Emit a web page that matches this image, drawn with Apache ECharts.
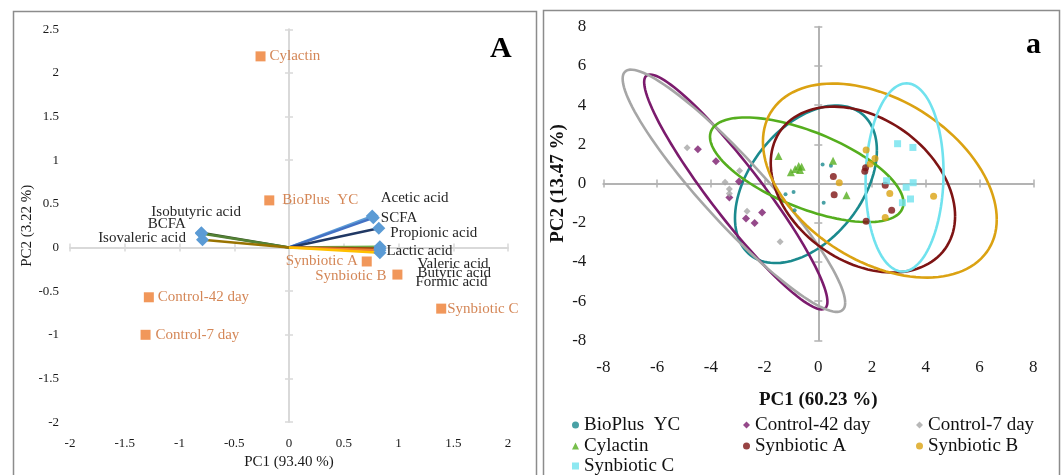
<!DOCTYPE html>
<html><head><meta charset="utf-8">
<script src="https://cdn.jsdelivr.net/npm/echarts@6/dist/echarts.min.js"></script>
<style>html,body{margin:0;padding:0;background:#fff}#c{width:1062px;height:475px}</style>
</head><body><div id="c"></div>
<script>
// ---------- Panel A data ----------
const trtNames = ['Cylactin','BioPlus  YC','Synbiotic A','Synbiotic B','Control-42 day','Control-7 day','Synbiotic C'];
const trtPC1 = [-0.26, -0.18, 0.71, 0.99, -1.28, -1.31, 1.39];
const trtPC2 = [2.19, 0.54, -0.16, -0.31, -0.57, -1.00, -0.70];

const varNames = ['Acetic acid','SCFA','Propionic acid','Lactic acid','Valeric acid','Butyric acid','Formic acid','Isobutyric acid','BCFA','Isovaleric acid'];
const varPC1 = [0.76, 0.77, 0.82, 0.83, 0.83, 0.83, 0.83, -0.80, -0.80, -0.79];
const varPC2 = [0.36, 0.34, 0.22, 0.01, -0.01, -0.03, -0.06, 0.17, 0.16, 0.09];

const axisA = {min: -2, max: 2, interval: 0.5, ymin: -2, ymax: 2.5, yinterval: 0.5};

// ---------- Panel a data ----------
const groups = ['BioPlus  YC','Control-42 day','Control-7 day','Cylactin','Synbiotic A','Synbiotic B','Synbiotic C'];
const bioX = [0.16, 0.47, 0.20, -0.92, -1.22, -0.88];
const bioY = [0.97, 0.91, -0.98, -0.43, -0.55, -1.37];
const c42X = [-4.48, -3.81, -2.95, -3.31, -2.09, -2.69, -2.37];
const c42Y = [1.75, 1.13, 0.10, -0.72, -1.48, -1.79, -2.01];
const c7X = [-4.88, -2.93, -3.47, -3.31, -3.31, -2.65, -1.42];
const c7Y = [1.82, 0.65, 0.06, -0.28, -0.51, -1.41, -2.97];
const cylX = [-1.48, -1.02, -0.86, -0.73, -0.62, -0.68, 0.55, 1.05];
const cylY = [1.40, 0.58, 0.74, 0.89, 0.86, 0.69, 1.16, -0.60];
const synAX = [0.56, 0.59, 1.73, 1.76, 2.49, 2.73, 1.78];
const synAY = [0.36, -0.57, 0.63, 0.80, -0.09, -1.36, -1.93];
const synBX = [0.78, 1.78, 2.11, 1.93, 2.66, 2.49, 4.29];
const synBY = [0.04, 1.71, 1.27, 0.99, -0.51, -1.73, -0.65];
const synCX = [2.95, 3.52, 2.54, 3.53, 3.27, 3.43, 3.13];
const synCY = [2.03, 1.84, 0.14, 0.04, -0.19, -0.79, -0.98];
// confidence ellipses: [centre PC1, centre PC2, half-width, half-height, correlation]
const ellBio = [-0.46, -0.04, 2.64, 4.02, 0.43];
const ellC42 = [-3.07, -0.43, 3.41, 5.99, -0.935];
const ellC7  = [-3.14, -0.37, 4.14, 6.18, -0.925];
const ellCyl = [-0.43, 0.70, 3.60, 2.67, -0.63];
const ellSynA = [1.66, -0.31, 3.43, 4.23, -0.32];
const ellSynB = [2.29, 0.15, 4.35, 4.95, -0.40];
const ellSynC = [3.21, 0.31, 1.45, 4.80, 0.05];

const axisB = {min: -8, max: 8, interval: 2};

// ---------- styles ----------
const FONT = '"Liberation Serif","Times New Roman",serif';
const trtLabelStyle = [
  {position:'right', distance:4, offset:[0,0]},
  {position:'right', distance:8, offset:[0,0]},
  {position:'left', distance:4, offset:[0,0]},
  {position:'left', distance:6, offset:[0,1]},
  {position:'right', distance:4, offset:[0,0]},
  {position:'right', distance:5, offset:[0,0]},
  {position:'right', distance:1, offset:[0,0]}
];
const varLabelStyle = [
  {position:'right', offset:[-3,-18]},
  {position:'right', offset:[-4,0]},
  {position:'right', offset:[0,5]},
  {position:'right', offset:[-5,4]},
  {position:'right', offset:[26,16]},
  {position:'right', offset:[26,23]},
  {position:'right', offset:[24,29]},
  {position:'left', offset:[51,-21]},
  {position:'left', offset:[-4,-9]},
  {position:'left', offset:[-5,-2]}
];
const varColors = ['#5B9BD5','#4472C4','#203864','#70AD47','#9E480E','#ED7D31','#FFC000','#375623','#548235','#997300'];
const grpColors = ['#1B8A8E','#7B1B6D','#A6A6A6','#55AE1E','#7E1414','#DBA212','#70E2EE'];
const grpSymbols = ['circle','diamond','diamond','triangle','circle','circle','rect'];
const grpSizes = [4, 8, 7, 8, 7, 7, 7];

const zip = (xs, ys) => xs.map((x, i) => [x, ys[i]]);

function axisSet(gi, mn, mx, iv, lineColor, labelSize, labelMargin, name, nameGap, nameStyle, dim) {
  const base = {gridIndex: gi, type: 'value', min: mn, max: mx, interval: iv, splitLine: {show: false}};
  const pos1 = dim === 'x' ? 'bottom' : 'left';
  const pos2 = dim === 'x' ? 'top' : 'right';
  return [
    Object.assign({}, base, {position: pos1, axisLine: {show: false, onZero: false}, axisTick: {show: false},
      axisLabel: {fontSize: labelSize, color: '#1a1a1a', fontFamily: FONT, margin: labelMargin},
      name: name, nameLocation: 'middle', nameGap: nameGap, nameRotate: dim === 'x' ? 0 : 90, nameTextStyle: nameStyle}),
    Object.assign({}, base, {position: pos1, axisLine: {show: true, onZero: true, lineStyle: {color: lineColor, width: 2}},
      axisTick: {show: true, length: 4, lineStyle: {color: lineColor, width: 1.5}}, axisLabel: {show: false}}),
    Object.assign({}, base, {position: pos2, axisLine: {show: false, onZero: true},
      axisTick: {show: true, length: 4, lineStyle: {color: lineColor, width: 1.5}}, axisLabel: {show: false}})
  ];
}

const nameStyleA = {fontSize: 15, fontFamily: FONT, color: '#1a1a1a'};
const nameStyleB = {fontSize: 19, fontFamily: FONT, color: '#111', fontWeight: 'bold'};

const xAxis = [].concat(
  axisSet(0, axisA.min, axisA.max, axisA.interval, '#d9d9d9', 13, 15, 'PC1 (93.40 %)', 31, nameStyleA, 'x'),
  axisSet(1, axisB.min, axisB.max, axisB.interval, '#b3b3b3', 17, 19, 'PC1 (60.23 %)', 50, nameStyleB, 'x')
);
const yAxis = [].concat(
  axisSet(0, axisA.ymin, axisA.ymax, axisA.yinterval, '#d9d9d9', 13, 11, 'PC2 (3.22 %)', 35, nameStyleA, 'y'),
  axisSet(1, axisB.min, axisB.max, axisB.interval, '#b3b3b3', 17, 17, 'PC2 (13.47 %)', 36, nameStyleB, 'y')
);

const series = [];
// Panel A loading vectors
varNames.forEach((n, i) => {
  const ls = varLabelStyle[i];
  series.push({
    type: 'line', xAxisIndex: 0, yAxisIndex: 0, name: n, z: 3,
    lineStyle: {color: varColors[i], width: 2.5}, itemStyle: {color: '#5B9BD5'},
    symbol: 'diamond', symbolSize: 13, showSymbol: true,
    data: [
      {value: [0, 0], symbolSize: 0, label: {show: false}},
      {value: [varPC1[i], varPC2[i]], label: {show: true, formatter: n, position: ls.position, offset: ls.offset,
        fontSize: 15, fontFamily: FONT, color: '#262626'}}
    ]
  });
});
// Panel A treatment scores
series.push({
  type: 'scatter', xAxisIndex: 0, yAxisIndex: 0, name: 'treatments', z: 4,
  symbol: 'rect', symbolSize: 10, itemStyle: {color: '#ED7D31'},
  data: trtNames.map((n, i) => ({name: n, value: [trtPC1[i], trtPC2[i]],
    label: {show: true, formatter: n, position: trtLabelStyle[i].position, distance: trtLabelStyle[i].distance,
      offset: trtLabelStyle[i].offset, fontSize: 15, fontFamily: FONT, color: '#C9682C'}}))
});

// Panel a ellipses
const ells = [ellBio, ellC42, ellC7, ellCyl, ellSynA, ellSynB, ellSynC];
function renderEllipse(params, api) {
  const cx = api.value(0), cy = api.value(1), hw = api.value(2), hh = api.value(3), r = api.value(4);
  const s = Math.sqrt(1 - r * r);
  const pts = [];
  for (let k = 0; k <= 120; k++) {
    const t = k / 120 * 2 * Math.PI;
    pts.push(api.coord([cx + hw * Math.cos(t), cy + hh * (r * Math.cos(t) + s * Math.sin(t))]));
  }
  return {type: 'polyline', shape: {points: pts}, style: {fill: null, stroke: api.visual('color'), lineWidth: 2.6}};
}
ells.forEach((e, i) => {
  series.push({type: 'custom', xAxisIndex: 3, yAxisIndex: 3, z: 2, clip: false,
    itemStyle: {color: grpColors[i]}, renderItem: renderEllipse,
    dimensions: ['cx','cy','hw','hh','r'], encode: {x: 0, y: 1}, data: [e], silent: true});
});
// Panel a scores
const grpData = [zip(bioX, bioY), zip(c42X, c42Y), zip(c7X, c7Y), zip(cylX, cylY), zip(synAX, synAY), zip(synBX, synBY), zip(synCX, synCY)];
groups.forEach((g, i) => {
  series.push({type: 'scatter', name: g, xAxisIndex: 3, yAxisIndex: 3, z: 4,
    symbol: grpSymbols[i], symbolSize: grpSizes[i], itemStyle: {color: grpColors[i]}, data: grpData[i]});
});

function legendCol(left, top, names) {
  return {orient: 'vertical', left: left, top: top, itemWidth: 7, itemHeight: 7, itemGap: 1,
    data: names, selectedMode: false, padding: 0,
    textStyle: {fontSize: 19, fontFamily: FONT, color: '#111', lineHeight: 20}};
}

const option = {
  animation: false,
  backgroundColor: '#fff',
  grid: [
    {left: 70, top: 29.3, width: 438, height: 393.7},
    {left: 603.3, top: 26.7, width: 430, height: 313.6}
  ],
  xAxis: xAxis,
  yAxis: yAxis,
  legend: [
    legendCol(572, 415, ['BioPlus  YC', 'Cylactin']),
    legendCol(572, 456, ['Synbiotic C']),
    legendCol(743, 415, ['Control-42 day', 'Synbiotic A']),
    legendCol(916, 415, ['Control-7 day', 'Synbiotic B'])
  ],
  graphic: [
    {type: 'rect', left: 11, top: 9, shape: {width: 523, height: 480}, style: {fill: null, stroke: '#8c8c8c', lineWidth: 1.5}, silent: true},
    {type: 'rect', left: 541, top: 8, shape: {width: 516, height: 480}, style: {fill: null, stroke: '#8c8c8c', lineWidth: 1.5}, silent: true},
    {type: 'text', left: 490, top: 34, style: {text: 'A', font: 'bold 30px ' + FONT, fill: '#000'}},
    {type: 'text', left: 1026, top: 30, style: {text: 'a', font: 'bold 30px ' + FONT, fill: '#000'}}
  ],
  series: series
};
const chart = echarts.init(document.getElementById('c'), null, {renderer: 'canvas'});
chart.setOption(option);
</script></body></html>
